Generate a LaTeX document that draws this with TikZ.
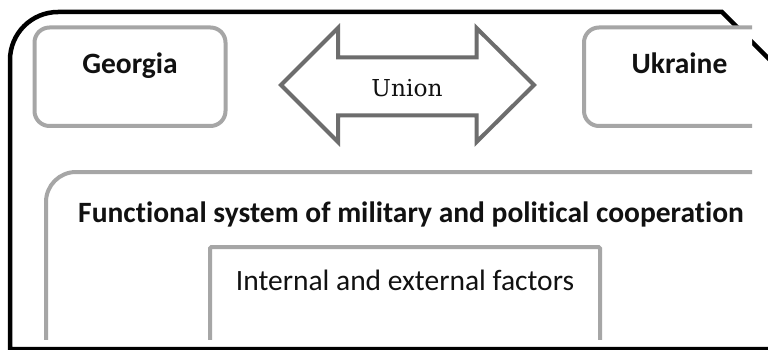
\documentclass[tikz,border=0pt]{standalone}
\usepackage{fontspec}
\newfontfamily\carlito[RawFeature={-liga}]{Carlito}
\newfontfamily\dvserif{DejaVu Serif}
\definecolor{boxgray}{HTML}{A6A6A6}
\definecolor{arrowgray}{HTML}{6D6D6D}
\definecolor{ink}{HTML}{111111}
\begin{document}
\begin{tikzpicture}[x=1pt,y=-1pt,
  gbox/.style={draw=boxgray, line width=4pt, fill=white, inner sep=0pt, rectangle},
  frameline/.style={draw=black, line width=4.5pt, line join=miter},
  boldlabel/.style={font=\carlito\bfseries\fontsize{29.5}{31}\selectfont, text=ink, anchor=base, inner sep=0pt},
  plainlabel/.style={font=\carlito\fontsize{29.5}{31}\selectfont, text=ink, anchor=base, inner sep=0pt},
  seriflabel/.style={font=\dvserif\fontsize{23.3}{25}\selectfont, text=ink, anchor=base, inner sep=0pt}]
\useasboundingbox (0,0) rectangle (768,350);
\fill[white] (0,0) rectangle (768,350);
% outer black frame
\coordinate (fbr) at (768,349);
\coordinate (fbl) at (10,349);
\coordinate (fl) at (10,60);
\coordinate (ftr) at (722,12);
\coordinate (fend) at (800,90);
\draw[frameline] (fbr) -- (fbl) -- (fl) arc[start angle=180, end angle=270, radius=48] -- (ftr) -- (fend);
\begin{scope}
\clip (0,0) rectangle (752,339);
% country boxes
\node[gbox, rounded corners=15pt, minimum width=191pt, minimum height=98.5pt] (georgia) at (130,76.75) {};
\node[gbox, rounded corners=15pt, minimum width=191pt, minimum height=98.5pt] (ukraine) at (679.5,76.75) {};
\node[boldlabel] (georgiat) at (130,74) {Georgia};
\node[boldlabel] (ukrainet) at (679.5,74) {Ukraine};
% double arrow
\draw[draw=arrowgray, line width=4pt, line join=miter, fill=white]
  (281,85) -- (338,28) -- (338,57.5) -- (476.5,57.5) -- (476.5,28) -- (534,85)
  -- (476.5,142) -- (476.5,115.5) -- (338,115.5) -- (338,142) -- cycle;
\node[seriflabel] (union) at (407,97) {Union};
% functional system box
\node[gbox, rounded corners=30pt, minimum width=754pt, minimum height=198pt] (func) at (423,271) {};
\node[boldlabel] (funct) at (411,222) {Functional system of military and political cooperation};
% inner box
\node[gbox, rounded corners=1.5pt, minimum width=390pt, minimum height=133pt] (inner) at (405,313.5) {};
\node[plainlabel] (innert) at (405,290) {Internal and external factors};
\end{scope}
\end{tikzpicture}
\end{document}
